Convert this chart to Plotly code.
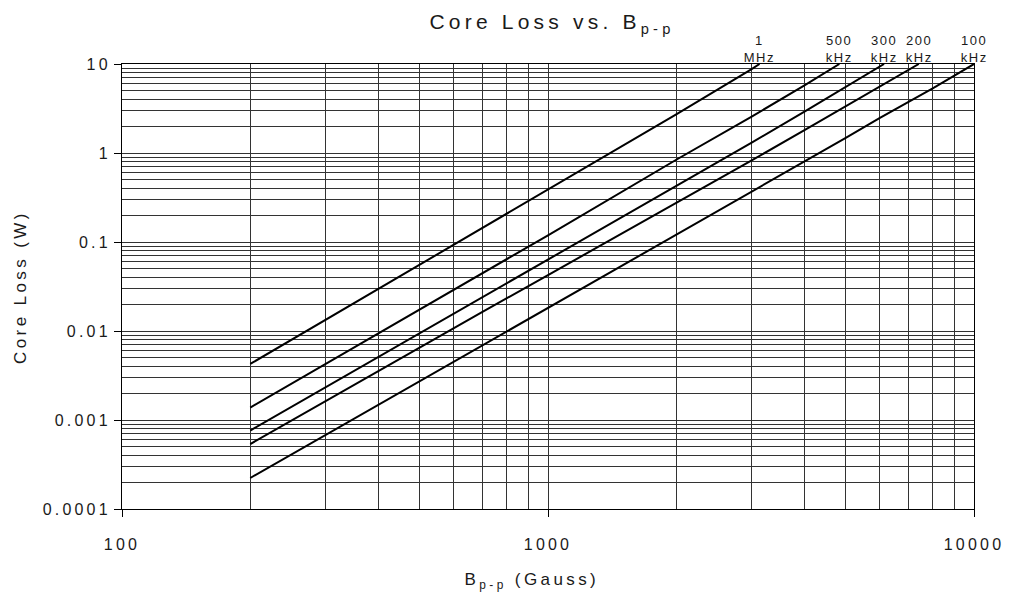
import math
import plotly.graph_objects as go

# ---- data (B in Gauss, core loss in W) ----
B_1MHz = [200, 300, 400, 500, 600, 700, 1000, 2000, 3000, 3137]
P_1MHz = [0.00426, 0.0133, 0.0295, 0.0555, 0.093, 0.141, 0.385, 2.72, 8.7, 10]

B_500k = [200, 300, 400, 500, 600, 700, 1000, 2000, 3000, 4000, 4830]
P_500k = [0.00138, 0.00424, 0.0094, 0.0175, 0.0288, 0.0444, 0.119, 0.84, 2.55, 5.75, 10]

B_300k = [200, 300, 400, 500, 600, 700, 1000, 2000, 3000, 4000, 5000, 6150]
P_300k = [0.000762, 0.00232, 0.00513, 0.0095, 0.0156, 0.0239, 0.0637, 0.43, 1.30, 2.92, 5.48, 10]

B_200k = [200, 300, 400, 500, 600, 700, 1000, 2000, 3000, 4000, 5000, 6000, 7420]
P_200k = [0.000537, 0.00163, 0.0036, 0.0066, 0.0108, 0.0163, 0.0425, 0.273, 0.82, 1.81, 3.33, 5.5, 10]

B_100k = [200, 300, 400, 500, 600, 700, 1000, 2000, 3000, 4000, 5000, 6000, 8000, 10000]
P_100k = [0.000223, 0.000674, 0.00148, 0.00272, 0.00446, 0.00683, 0.018, 0.119, 0.366, 0.805, 1.48, 2.46, 5.32, 10]

curve_labels = ["1<br>MHz", "500<br>kHz", "300<br>kHz", "200<br>kHz", "100<br>kHz"]
curves_B = [B_1MHz, B_500k, B_300k, B_200k, B_100k]
curves_P = [P_1MHz, P_500k, P_300k, P_200k, P_100k]

x_major = [100, 1000, 10000]
x_major_text = ["100", "1000", "10000"]
x_minor = [m * d for d in (100, 1000) for m in range(2, 10)]

y_major = [0.0001, 0.001, 0.01, 0.1, 1, 10]
y_major_text = ["0.0001", "0.001", "0.01", "0.1", "1", "10"]
y_minor = [m * d for d in (0.0001, 0.001, 0.01, 0.1, 1) for m in range(2, 10)]

title_text = "Core Loss vs. B<sub>p-p</sub>"
x_title = "B<sub>p-p</sub> (Gauss)"
y_title = "Core Loss (W)"

FONT = "Liberation Sans, Arial, sans-serif"
TXT = "#1a1a1a"
GRID = "#333333"

fig = go.Figure()
for b, p in zip(curves_B, curves_P):
    fig.add_trace(go.Scatter(x=b, y=p, mode="lines",
                             line=dict(color="black", width=2),
                             showlegend=False, hoverinfo="skip"))

# frequency labels at the end of each curve (top edge)
for lab, b, p in zip(curve_labels, curves_B, curves_P):
    fig.add_annotation(x=math.log10(b[-1]), y=math.log10(p[-1]), xref="x", yref="y",
                       text=lab, showarrow=False, yanchor="bottom", xanchor="center",
                       yshift=-3, font=dict(family=FONT, size=13, color=TXT))

# axis titles
fig.add_annotation(xref="paper", yref="paper", x=-0.1193, y=0.5, text=y_title,
                   textangle=-90, showarrow=False, xanchor="center", yanchor="middle",
                   font=dict(family=FONT, size=17, color=TXT))
fig.add_annotation(xref="paper", yref="paper", x=0.4807, y=-0.1618, text=x_title,
                   showarrow=False, xanchor="center", yanchor="middle",
                   font=dict(family=FONT, size=17, color=TXT))

axis_common = dict(
    type="log", showline=True, linecolor="black", linewidth=1, mirror=True,
    ticks="outside", ticklen=7, tickcolor="black", tickwidth=1,
    showgrid=True, gridcolor=GRID, gridwidth=1, zeroline=False,
    tickfont=dict(family=FONT, size=16, color=TXT),
)

fig.update_xaxes(range=[2, 4], tickmode="array", tickvals=x_major, ticktext=x_major_text,
                 ticklabelstandoff=14,
                 minor=dict(tickmode="array", tickvals=x_minor, showgrid=True,
                            gridcolor=GRID, gridwidth=1, ticks=""),
                 **axis_common)
fig.update_yaxes(range=[-4, 1], tickmode="array", tickvals=y_major, ticktext=y_major_text,
                 ticklabelstandoff=0,
                 minor=dict(tickmode="array", tickvals=y_minor, showgrid=True,
                            gridcolor=GRID, gridwidth=1, ticks=""),
                 **axis_common)

fig.update_layout(
    width=1000, height=589,
    margin=dict(l=114, r=31, t=56, b=88),
    paper_bgcolor="white", plot_bgcolor="white",
    title=dict(text=title_text, x=0.544, xanchor="center", y=0.976, yanchor="middle",
               font=dict(family=FONT, size=21, color=TXT)),
    showlegend=False,
)

post_js = """
var gd = document.getElementById('{plot_id}');
function spacing(){
  gd.querySelectorAll('text').forEach(function(t){ t.style.letterSpacing = '0.2em'; });
  gd.querySelectorAll('.annotation').forEach(function(a){
    var i = +a.getAttribute('data-index');
    if (i < 5) { a.querySelectorAll('text').forEach(function(t){ t.style.letterSpacing = '0.12em'; }); }
  });
}
spacing();
if (gd.on) { gd.on('plotly_afterplot', spacing); }
"""

fig.write_html("out.html", config={"displayModeBar": False}, post_script=post_js)
